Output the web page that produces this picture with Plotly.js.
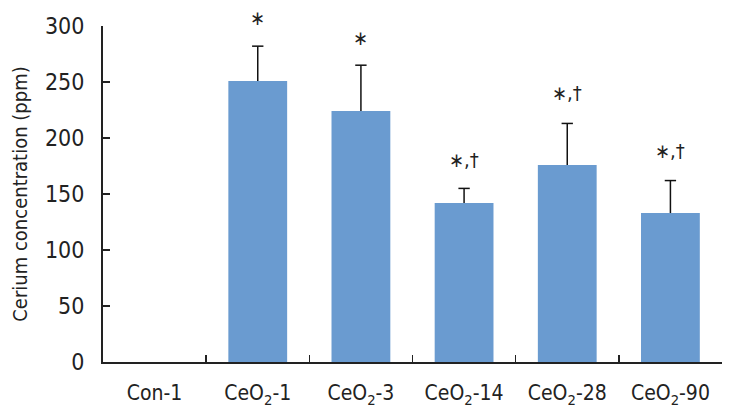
<!DOCTYPE html>
<html><head><meta charset="utf-8">
<script src="https://cdn.plot.ly/plotly-3.0.1.min.js"></script>
<style>html,body{margin:0;padding:0;background:#fff;}#chart{width:732px;height:411px;}</style>
</head><body><div id="chart"></div>
<script>
const categories = ["Con-1", "CeO<sub>2</sub>-1", "CeO<sub>2</sub>-3", "CeO<sub>2</sub>-14", "CeO<sub>2</sub>-28", "CeO<sub>2</sub>-90"];
const concentration = [0, 251, 224, 142, 176, 133];
const errorPlus = [0, 31, 41, 13, 37, 29];
const significance = ["", "∗", "∗", "∗,†", "∗,†", "∗,†"];
const markLevel = [0, 307, 289, 180, 240, 188];

const font = "'DejaVu Sans Condensed', 'DejaVu Sans', sans-serif";
const yMax = 300;

const trace = {
  type: "bar",
  x: categories,
  y: concentration,
  width: 0.57,
  marker: {color: "#6A9BD0"},
  hoverinfo: "skip"
};

const shapes = [];
categories.forEach((c, i) => {
  if (errorPlus[i] > 0) {
    const top = concentration[i] + errorPlus[i];
    shapes.push({type: "line", xref: "x", yref: "y", x0: i, x1: i, y0: concentration[i], y1: top, line: {color: "#111", width: 1.5}});
    shapes.push({type: "line", xref: "x", yref: "y", x0: i - 0.055, x1: i + 0.055, y0: top, y1: top, line: {color: "#111", width: 1.5}});
  }
});

const annotations = categories.map((c, i) => ({
  x: i, y: markLevel[i] / yMax, xref: "x", yref: "paper", yanchor: "middle", xanchor: "center", text: significance[i],
  showarrow: false, font: {family: font, size: 20, color: "#222"}
})).filter(a => a.text !== "");

const layout = {
  width: 732, height: 411,
  margin: {l: 103, r: 10, t: 26, b: 49},
  paper_bgcolor: "#fff", plot_bgcolor: "#fff",
  showlegend: false,
  xaxis: {
    type: "category", tickson: "boundaries", ticks: "inside", ticklen: 7, tickwidth: 1.5, tickcolor: "#222",
    showline: true, linecolor: "#222", linewidth: 2, showgrid: false, zeroline: false,
    tickfont: {family: font, size: 21, color: "#222"}, ticklabelstandoff: 11
  },
  yaxis: {
    range: [0, yMax], tickvals: [0, 50, 100, 150, 200, 250, 300], ticks: "inside", ticklen: 7, tickwidth: 1.5, tickcolor: "#222",
    showline: true, linecolor: "#222", linewidth: 2, showgrid: false, zeroline: false,
    tickfont: {family: font, size: 23, color: "#222"}, ticklabelstandoff: 12,
    title: {text: "Cerium concentration (ppm)", font: {family: font, size: 20, color: "#222"}, standoff: 12}
  },
  shapes: shapes,
  annotations: annotations
};

Plotly.newPlot("chart", [trace], layout, {displayModeBar: false, staticPlot: true});
</script></body></html>
